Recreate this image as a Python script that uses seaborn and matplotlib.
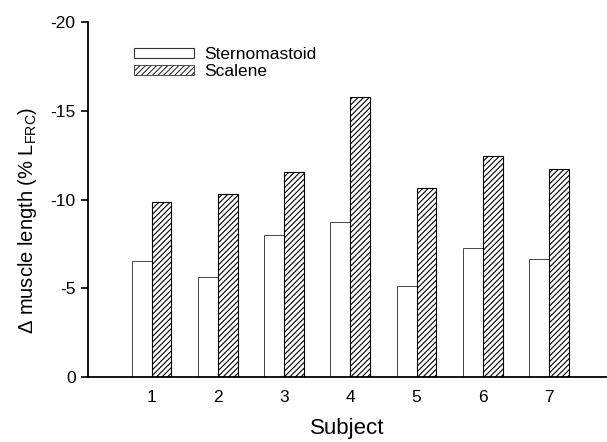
import numpy as np
import pandas as pd
import matplotlib
matplotlib.use("Agg")
import matplotlib.pyplot as plt
import seaborn as sns
from matplotlib.patches import Patch

# Values (change in muscle length, % L_FRC)
subjects = ["1", "2", "3", "4", "5", "6", "7"]
sternomastoid = [-6.55, -5.65, -7.98, -8.72, -5.13, -7.25, -6.65]
scalene = [-9.88, -10.29, -11.53, -15.79, -10.63, -12.45, -11.70]
muscles = ["Sternomastoid", "Scalene"]
y_ticks = [0, -5, -10, -15, -20]

df = pd.DataFrame({
    "subject": subjects * 2,
    "muscle": [muscles[0]] * len(subjects) + [muscles[1]] * len(subjects),
    "change": sternomastoid + scalene,
})

sns.set_style("ticks")
plt.rcParams["font.family"] = ["Liberation Sans", "DejaVu Sans"]
plt.rcParams["mathtext.fontset"] = "custom"
plt.rcParams["mathtext.rm"] = "Liberation Sans"
plt.rcParams["mathtext.it"] = "Liberation Sans:italic"
plt.rcParams["hatch.linewidth"] = 0.8
plt.rcParams["text.color"] = "black"
plt.rcParams["axes.labelcolor"] = "black"
plt.rcParams["xtick.color"] = "black"
plt.rcParams["ytick.color"] = "black"

fig = plt.figure(figsize=(6.07, 4.42), dpi=100)
ax = fig.add_axes([0.145, 0.147, 0.855, 0.803])

sns.barplot(
    data=df, x="subject", y="change", hue="muscle",
    order=subjects, hue_order=muscles,
    palette=["white", "white"], width=0.6, errorbar=None,
    edgecolor="black", linewidth=0.8, legend=False, ax=ax,
)

# hatch the scalene bars
for bar in ax.containers[1]:
    bar.set_hatch("//////")
for bar in ax.containers[0]:
    bar.set_edgecolor("#444444")
    bar.set_linewidth(0.7)

ax.set_ylim(0, -20)
ax.set_xlim(-0.96, 6.875)
ax.set_yticks(y_ticks)
ax.set_yticklabels([str(t) for t in y_ticks])
ax.tick_params(axis="y", direction="out", length=5, width=1.2, labelsize=12.5, pad=4)
ax.tick_params(axis="x", length=0, labelsize=12.5, pad=9)

sns.despine(ax=ax, top=True, right=True)
ax.spines["left"].set_linewidth(1.3)
ax.spines["bottom"].set_linewidth(1.3)
ax.spines["left"].set_color("black")
ax.spines["bottom"].set_color("black")

ax.set_xlabel("Subject", fontsize=16, labelpad=10)
ax.set_ylabel(r"$\Delta$ muscle length (% L$_{\mathrm{FRC}}$)", fontsize=14.5)
ax.yaxis.set_label_coords(-0.094, 0.44)

handles = [
    Patch(facecolor="white", edgecolor="#333333", linewidth=0.8, label=muscles[0]),
    Patch(facecolor="white", edgecolor="#333333", linewidth=0.6, hatch="//////", label=muscles[1]),
]
ax.legend(handles=handles, loc="upper left", bbox_to_anchor=(0.075, 0.95),
          frameon=False, fontsize=12.5, handlelength=3.45, handleheight=0.5,
          handletextpad=0.6, labelspacing=0.15, borderaxespad=0)

fig.savefig("out.png", dpi=100)
